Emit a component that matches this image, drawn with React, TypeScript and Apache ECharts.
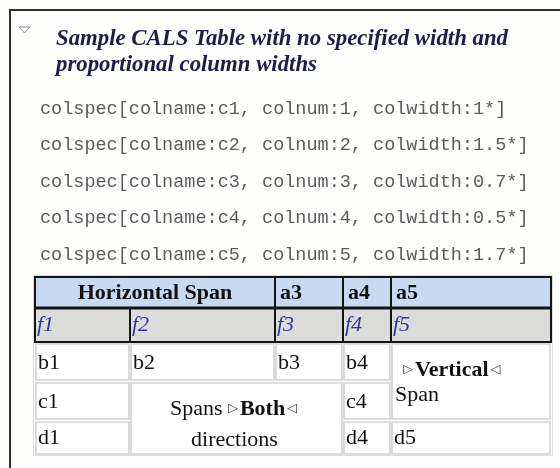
import React, { useEffect, useRef } from "react";
import * as echarts from "echarts";

const titleLines = [
  "Sample CALS Table with no specified width and",
  "proportional column widths",
];
const colspecLines = [
  "colspec[colname:c1, colnum:1, colwidth:1*]",
  "colspec[colname:c2, colnum:2, colwidth:1.5*]",
  "colspec[colname:c3, colnum:3, colwidth:0.7*]",
  "colspec[colname:c4, colnum:4, colwidth:0.5*]",
  "colspec[colname:c5, colnum:5, colwidth:1.7*]",
];
const headerCells = ["a3", "a4", "a5"];
const spanHeader = "Horizontal Span";
const footCells = ["f1", "f2", "f3", "f4", "f5"];
const rowB = ["b1", "b2", "b3", "b4"];
const rowC = ["c1", "c4"];
const rowD = ["d1", "d4", "d5"];
const bothLines = ["Spans ", "Both", "directions"];
const verticalLines = ["Vertical", "Span"];

const SERIF = "'Liberation Serif', 'Times New Roman', serif";
const MONO = "'Liberation Mono', 'Courier New', monospace";

function txt(text: string, x: number, y: number, font: string, fill: string, align = "left", extra: any = {}) {
  return {
    type: "text",
    silent: true,
    style: {
      text,
      x,
      y,
      font,
      fill,
      align,
      textAlign: align,
      verticalAlign: "middle",
      textVerticalAlign: "middle",
      ...extra,
    },
  };
}

export default function App() {
  const ref = useRef<HTMLDivElement>(null);
  useEffect(() => {
    if (!ref.current) return;
    const chart = echarts.init(ref.current, null, { renderer: "svg" });
    const els: any[] = [];

    // frame
    els.push({ type: "rect", shape: { x: 0, y: 0, width: 560, height: 468 }, style: { fill: "#fefefd" } });
    els.push({ type: "polyline", shape: { points: [[561, 10], [10, 10], [10, 469]] }, style: { stroke: "#2e2e2e", lineWidth: 2, fill: null } });
    els.push({ type: "polygon", shape: { points: [[19, 27], [30, 27], [24.5, 33]] }, style: { stroke: "#8c8c8c", lineWidth: 1, fill: "#ffffff" } });

    // title
    titleLines.forEach((t, i) => {
      els.push(txt(t, 56, 37 + i * 26.5, "italic bold 22.8px " + SERIF, "#1d1d4a"));
    });

    // colspec
    colspecLines.forEach((t, i) => {
      els.push(txt(t, 40, 109 + i * 36.5, "18.5px " + MONO, "#5c5c5c"));
    });

    // table geometry
    const xs = [35, 130, 275, 343, 391, 551];
    const hTop = 277, hMid = 308, hBot = 342;
    const ys = [342, 381, 420, 455];

    // outer faint border
    els.push({ type: "rect", shape: { x: 33.5, y: 275.5, width: 519, height: 180 }, style: { fill: "#ffffff", stroke: "#dcdcdc", lineWidth: 1 } });

    // header fills
    els.push({ type: "rect", shape: { x: xs[0], y: hTop, width: xs[5] - xs[0], height: hMid - hTop }, style: { fill: "#c8daf2" } });
    els.push({ type: "rect", shape: { x: xs[0], y: hMid, width: xs[5] - xs[0], height: hBot - hMid }, style: { fill: "#dcdcdb" } });
    // header borders
    els.push({ type: "rect", shape: { x: xs[0], y: hTop, width: xs[5] - xs[0], height: hBot - hTop }, style: { fill: null, stroke: "#141414", lineWidth: 2 } });
    els.push({ type: "line", shape: { x1: xs[0], y1: hMid, x2: xs[5], y2: hMid }, style: { stroke: "#141414", lineWidth: 3 } });
    [2, 3, 4].forEach((c) => {
      els.push({ type: "line", shape: { x1: xs[c], y1: hTop, x2: xs[c], y2: hMid }, style: { stroke: "#141414", lineWidth: 2 } });
    });
    [1, 2, 3, 4].forEach((c) => {
      els.push({ type: "line", shape: { x1: xs[c], y1: hMid, x2: xs[c], y2: hBot }, style: { stroke: "#141414", lineWidth: 2 } });
    });

    // body cells [c0, c1, r0, r1]
    const cells = [
      [0, 0, 0, 0], [1, 1, 0, 0], [2, 2, 0, 0], [3, 3, 0, 0], [4, 4, 0, 1],
      [0, 0, 1, 1], [1, 2, 1, 2], [3, 3, 1, 1],
      [0, 0, 2, 2], [3, 3, 2, 2], [4, 4, 2, 2],
    ];
    cells.forEach(([c0, c1, r0, r1]) => {
      const x = xs[c0] + 1, x2 = xs[c1 + 1] - 1;
      const y = ys[r0] + 2, y2 = ys[r1 + 1] - 1;
      els.push({ type: "rect", shape: { x, y, width: x2 - x, height: y2 - y }, style: { fill: "#ffffff", stroke: "#d2d2d2", lineWidth: 1.6 } });
    });

    // header texts
    els.push(txt(spanHeader, (xs[0] + xs[2]) / 2, 291, "bold 22px " + SERIF, "#111111", "center"));
    headerCells.forEach((t, i) => {
      els.push(txt(t, xs[i + 2] + 5, 291, "bold 22px " + SERIF, "#111111"));
    });
    footCells.forEach((t, i) => {
      els.push(txt(t, xs[i] + 2, 323, "italic 22px " + SERIF, "#3434a4"));
    });

    // body texts
    const bodyFont = "22px " + SERIF;
    rowB.forEach((t, i) => {
      els.push(txt(t, xs[i] + 3, 361, bodyFont, "#111111"));
    });
    els.push(txt(rowC[0], xs[0] + 3, 400, bodyFont, "#111111"));
    els.push(txt(rowC[1], xs[3] + 3, 400, bodyFont, "#111111"));
    els.push(txt(rowD[0], xs[0] + 3, 436, bodyFont, "#111111"));
    els.push(txt(rowD[1], xs[3] + 3, 436, bodyFont, "#111111"));
    els.push(txt(rowD[2], xs[4] + 3, 436, bodyFont, "#111111"));

    const rich = {
      m: { font: "13px 'DejaVu Sans'", fill: "#444444" },
      s: { font: "6px 'DejaVu Sans'", fill: "#444444" },
      b: { font: "bold 22px " + SERIF, fill: "#111111" },
      n: { font: bodyFont, fill: "#111111" },
    };
    const midBoth = (xs[1] + xs[3]) / 2 - 3;
    els.push(txt("{n|" + bothLines[0] + "}{m|▷}{s| }{b|" + bothLines[1] + "}{s| }{m|◁}", midBoth, 407, bodyFont, "#111111", "center", { rich }));
    els.push(txt(bothLines[2], midBoth + 1, 438, bodyFont, "#111111", "center"));

    els.push(txt("{m|▷}{s| }{b|" + verticalLines[0] + "}{s| }{m|◁}", xs[4] + 12, 368, bodyFont, "#111111", "left", { rich }));
    els.push(txt(verticalLines[1], xs[4] + 4, 393, bodyFont, "#111111"));

    chart.setOption({ animation: false, graphic: { elements: els } });
    return () => chart.dispose();
  }, []);
  return <div ref={ref} style={{ position: "fixed", left: 0, top: 0, width: 560, height: 468 }} />;
}
